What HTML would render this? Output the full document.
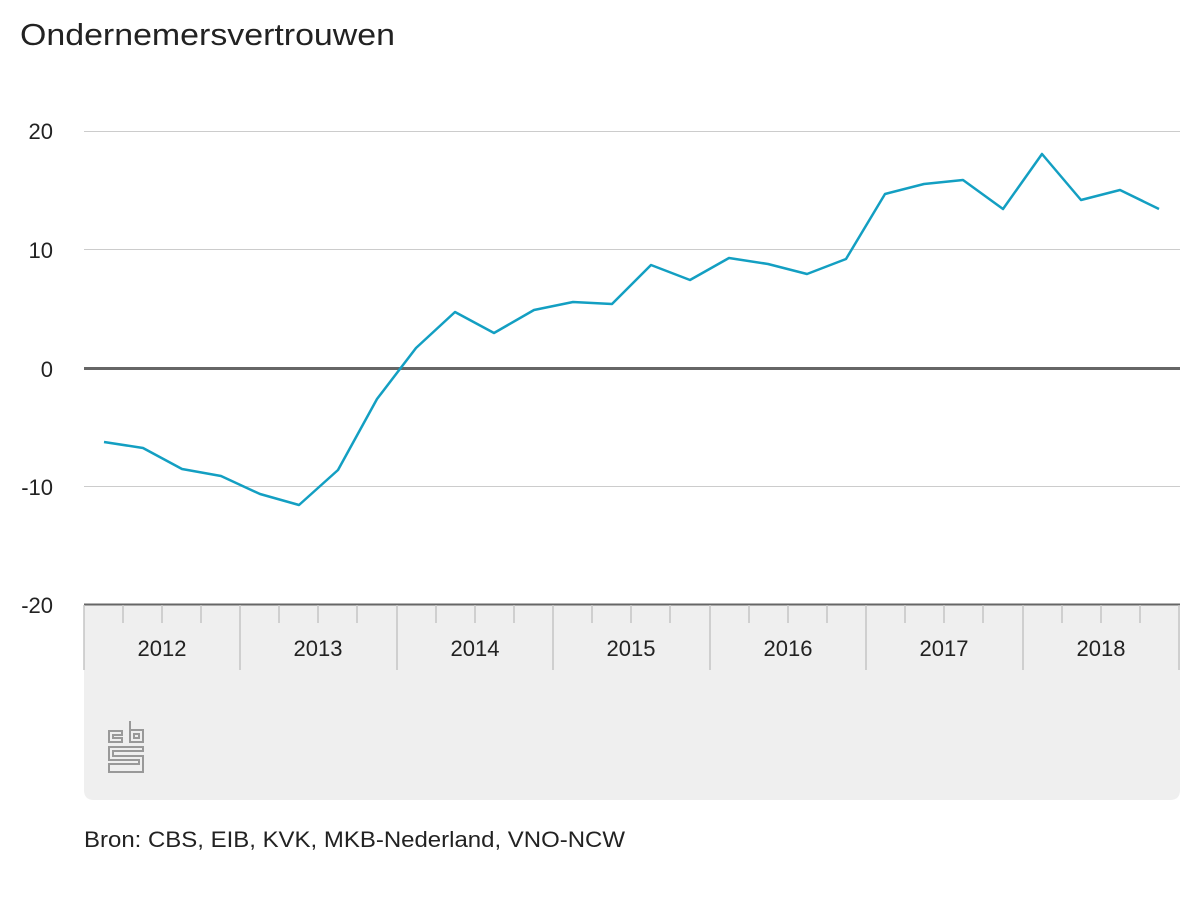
<!DOCTYPE html>
<html><head><meta charset="utf-8"><style>
html,body{margin:0;padding:0;background:#fff;}
body{width:1200px;height:900px;overflow:hidden;font-family:"Liberation Sans",Arial,sans-serif;}
</style></head><body>
<svg width="1200" height="900" xmlns="http://www.w3.org/2000/svg" font-family="Liberation Sans, Arial, sans-serif">
<text x="20" y="45" font-size="31" fill="#222" textLength="375" lengthAdjust="spacingAndGlyphs">Ondernemersvertrouwen</text>
<path d="M84 605 H1180 V790 Q1180 800 1170 800 H94 Q84 800 84 790 Z" fill="#efefef"/>
<g stroke="#ccc" stroke-width="1">
<line x1="84" y1="131.5" x2="1180" y2="131.5"/>
<line x1="84" y1="249.5" x2="1180" y2="249.5"/>
<line x1="84" y1="486.5" x2="1180" y2="486.5"/>
</g>
<line x1="84" y1="368.5" x2="1180" y2="368.5" stroke="#666" stroke-width="3"/>
<line x1="84" y1="604.5" x2="1180" y2="604.5" stroke="#666" stroke-width="2"/>
<g stroke="#c4c4c4" stroke-width="1.5">
<line x1="84" y1="605" x2="84" y2="670"/><line x1="240" y1="605" x2="240" y2="670"/><line x1="397" y1="605" x2="397" y2="670"/><line x1="553" y1="605" x2="553" y2="670"/><line x1="710" y1="605" x2="710" y2="670"/><line x1="866" y1="605" x2="866" y2="670"/><line x1="1023" y1="605" x2="1023" y2="670"/><line x1="1179" y1="605" x2="1179" y2="670"/>
<line x1="123" y1="605" x2="123" y2="623"/><line x1="162" y1="605" x2="162" y2="623"/><line x1="201" y1="605" x2="201" y2="623"/>
<line x1="279" y1="605" x2="279" y2="623"/><line x1="318" y1="605" x2="318" y2="623"/><line x1="357" y1="605" x2="357" y2="623"/>
<line x1="436" y1="605" x2="436" y2="623"/><line x1="475" y1="605" x2="475" y2="623"/><line x1="514" y1="605" x2="514" y2="623"/>
<line x1="592" y1="605" x2="592" y2="623"/><line x1="631" y1="605" x2="631" y2="623"/><line x1="670" y1="605" x2="670" y2="623"/>
<line x1="749" y1="605" x2="749" y2="623"/><line x1="788" y1="605" x2="788" y2="623"/><line x1="827" y1="605" x2="827" y2="623"/>
<line x1="905" y1="605" x2="905" y2="623"/><line x1="944" y1="605" x2="944" y2="623"/><line x1="983" y1="605" x2="983" y2="623"/>
<line x1="1062" y1="605" x2="1062" y2="623"/><line x1="1101" y1="605" x2="1101" y2="623"/><line x1="1140" y1="605" x2="1140" y2="623"/>
</g>
<g font-size="22" fill="#222" text-anchor="middle">
<text x="162" y="656">2012</text><text x="318" y="656">2013</text><text x="475" y="656">2014</text><text x="631" y="656">2015</text><text x="788" y="656">2016</text><text x="944" y="656">2017</text><text x="1101" y="656">2018</text>
</g>
<g font-size="22" fill="#222" text-anchor="end">
<text x="53" y="139">20</text><text x="53" y="258">10</text><text x="53" y="377">0</text><text x="53" y="495">-10</text><text x="53" y="613">-20</text>
</g>
<polyline fill="none" stroke="#139fc2" stroke-width="2.5" stroke-linejoin="round" points="104,442 143,448 182,469 221,476 260,494 299,505 338,470 377,399 416,348 455,312 494,333 534,310 573,302 612,304 651,265 690,280 729,258 768,264 807,274 846,259 885,194 924,184 963,180 1003,209 1042,154 1081,200 1120,190 1159,209"/>
<g fill="none" stroke="#999" stroke-width="2">
<path d="M122 731 H109 V742 H122 V738 H113 V735 H122 Z"/>
<path d="M130 721 V742 H143 V730 H130"/>
<rect x="134" y="734" width="5" height="4"/>
<path d="M143 747 H109 V760 H139 V764 H109 V772 H143 V756 H113 V751 H143 Z"/>
</g>
<text x="84" y="847" font-size="22" fill="#222" textLength="541" lengthAdjust="spacingAndGlyphs">Bron: CBS, EIB, KVK, MKB-Nederland, VNO-NCW</text>
</svg>
</body></html>
